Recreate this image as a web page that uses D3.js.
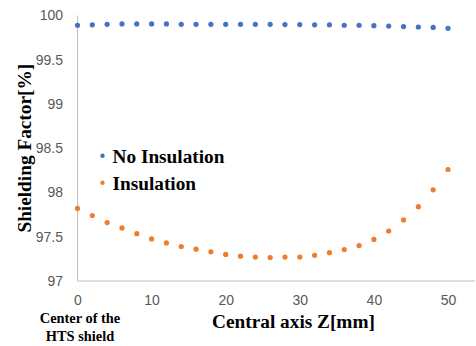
<!DOCTYPE html>
<html>
<head>
<meta charset="utf-8">
<script src="https://cdn.jsdelivr.net/npm/d3@7"></script>
<style>
  body { margin: 0; background: #fff; }
  #chart { width: 476px; height: 346px; }
</style>
</head>
<body>
<div id="chart"></div>
<script>
// axial positions along the HTS shield [mm]
const zPositions = [0, 2, 4, 6, 8, 10, 12, 14, 16, 18, 20, 22, 24, 26, 28, 30, 32, 34, 36, 38, 40, 42, 44, 46, 48, 50];

const noInsulation = [99.89, 99.895, 99.90, 99.905, 99.905, 99.905, 99.905, 99.90, 99.90, 99.90, 99.90, 99.90, 99.90,
    99.90, 99.897, 99.897, 99.895, 99.895, 99.89, 99.89, 99.885, 99.88, 99.875, 99.87, 99.865, 99.855];

const insulation = [97.82, 97.74, 97.66, 97.60, 97.535, 97.475, 97.43, 97.39, 97.36, 97.33, 97.30, 97.28, 97.27,
    97.265, 97.27, 97.27, 97.29, 97.32, 97.355, 97.40, 97.47, 97.565, 97.69, 97.84, 98.03, 98.26];

const xTicks = [0, 10, 20, 30, 40, 50];
const yTicks = [97, 97.5, 98, 98.5, 99, 99.5, 100];

const series = [
    { name: 'No Insulation', values: noInsulation, color: '#4472C4' },
    { name: 'Insulation', values: insulation, color: '#ED7D31' }
];

const width = 476, height = 346;
const serif = '"Liberation Serif", "Times New Roman", serif';
const sans = '"Liberation Sans", Arial, sans-serif';

const svg = d3.select('#chart').append('svg')
    .attr('width', width)
    .attr('height', height)
    .attr('viewBox', `0 0 ${width} ${height}`);

const x = d3.scaleLinear().domain([0, 50]).range([77.5, 448]);
const y = d3.scaleLinear().domain([97, 100]).range([281, 15.5]);

// axis lines
svg.append('line')
    .attr('x1', x(0)).attr('x2', x(0))
    .attr('y1', y(100)).attr('y2', y(97))
    .attr('stroke', '#BFBFBF').attr('stroke-width', 1);
svg.append('line')
    .attr('x1', x(0)).attr('x2', 475)
    .attr('y1', y(97)).attr('y2', y(97))
    .attr('stroke', '#BFBFBF').attr('stroke-width', 1);

// tick labels
const yAxis = svg.append('g')
    .attr('transform', `translate(${x(0)},0)`)
    .call(d3.axisLeft(y).tickValues(yTicks).tickSize(0).tickPadding(14.5).tickFormat(d3.format('')));
const xAxis = svg.append('g')
    .attr('transform', `translate(0,${y(97)})`)
    .call(d3.axisBottom(x).tickValues(xTicks).tickSize(0).tickPadding(14).tickFormat(d3.format('')));

[yAxis, xAxis].forEach(g => {
    g.select('.domain').remove();
    g.selectAll('text')
        .attr('fill', '#595959')
        .style('font-family', sans)
        .style('font-size', '14px');
});

// points
series.forEach(s => {
    svg.append('g').selectAll('circle')
        .data(zPositions.map((z, i) => ({ z, v: s.values[i] })))
        .enter()
        .append('circle')
        .attr('cx', d => x(d.z))
        .attr('cy', d => y(d.v))
        .attr('r', 2.6)
        .attr('fill', s.color);
});

// legend
const legend = svg.append('g');
series.forEach((s, i) => {
    legend.append('circle')
        .attr('cx', 102.5)
        .attr('cy', 155.7 + i * 27)
        .attr('r', 2.2)
        .attr('fill', s.color);
    legend.append('text')
        .attr('x', 112.5)
        .attr('y', 163.3 + i * 26.5)
        .attr('fill', '#000')
        .style('font-family', serif)
        .style('font-weight', 'bold')
        .style('font-size', '19.3px')
        .text(s.name);
});

// axis titles
svg.append('text')
    .attr('transform', `translate(30.5,${(y(97) + y(100)) / 2}) rotate(-90)`)
    .attr('text-anchor', 'middle')
    .style('font-family', serif)
    .style('font-weight', 'bold')
    .style('font-size', '19.3px')
    .text('Shielding Factor[%]');

svg.append('text')
    .attr('x', 293.5)
    .attr('y', 328.3)
    .attr('text-anchor', 'middle')
    .style('font-family', serif)
    .style('font-weight', 'bold')
    .style('font-size', '19.3px')
    .text('Central axis Z[mm]');

const note = svg.append('text')
    .attr('text-anchor', 'middle')
    .style('font-family', serif)
    .style('font-weight', 'bold')
    .style('font-size', '14.4px');
note.append('tspan').attr('x', 80).attr('y', 322.7).text('Center of the');
note.append('tspan').attr('x', 80).attr('y', 340.7).text('HTS shield');
</script>
</body>
</html>
